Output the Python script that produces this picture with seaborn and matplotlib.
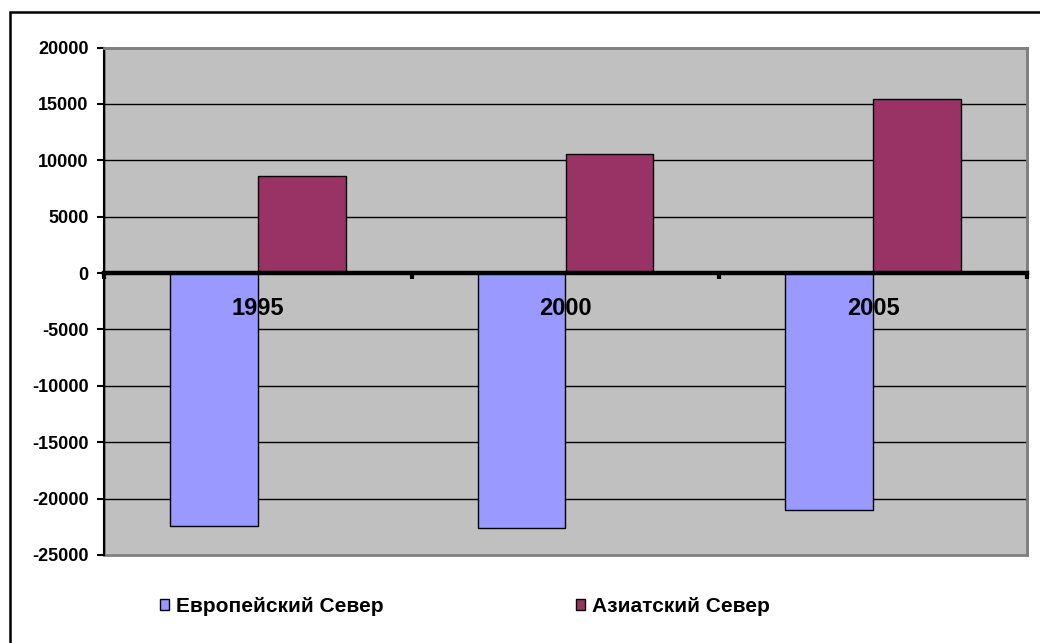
import pandas as pd
import matplotlib
matplotlib.use('Agg')
import matplotlib.pyplot as plt
import matplotlib.patches as mpatches
import seaborn as sns

# data
years = ['1995', '2000', '2005']
europe_north = [-22450, -22600, -21050]
asia_north = [8650, 10550, 15400]
regions = ['Европейский Север', 'Азиатский Север']
colors = ['#9999FF', '#993366']

df = pd.DataFrame({
    'year': years * 2,
    'value': europe_north + asia_north,
    'region': [regions[0]] * len(years) + [regions[1]] * len(years),
})

sns.set_style('white')
plt.rcParams['font.family'] = ['Liberation Sans', 'DejaVu Sans']
plt.rcParams['font.weight'] = 'bold'
plt.rcParams['text.color'] = 'black'
plt.rcParams['xtick.color'] = 'black'
plt.rcParams['ytick.color'] = 'black'
plt.rcParams['axes.unicode_minus'] = False

fig = plt.figure(figsize=(10.4, 6.43), dpi=100)
ax = fig.add_axes([0.1, 0.137, 0.8875, 0.789])

sns.barplot(data=df, x='year', y='value', hue='region', palette=colors,
            width=0.57, gap=0, saturation=1, edgecolor='black', linewidth=1,
            ax=ax)

# Excel-like plot area
ax.set_facecolor('#C0C0C0')
ax.patch.set_edgecolor('#808080')
ax.patch.set_linewidth(2)
ax.set_ylim(-25000, 20000)
ax.set_yticks(range(-25000, 20001, 5000))
ax.yaxis.grid(True, color='black', linewidth=1)
ax.set_axisbelow(True)
ax.xaxis.set_zorder(6)
for gl in ax.yaxis.get_gridlines()[::len(ax.get_yticks()) - 1]:
    gl.set_visible(False)

ax.spines['bottom'].set_position(('data', 0))
ax.spines['bottom'].set_linewidth(3.2)
ax.spines['bottom'].set_color('black')
ax.spines['bottom'].set_zorder(5)
ax.spines['left'].set_linewidth(1.5)
ax.spines['left'].set_color('black')
for side in ['top', 'right']:
    ax.spines[side].set_color('#808080')
    ax.spines[side].set_linewidth(2)

ax.set_xticks([-0.5, 0.5, 1.5, 2.5], minor=True)
ax.tick_params(axis='x', which='minor', length=4, width=3, direction='out',
               color='black', bottom=True)
ax.tick_params(axis='x', which='major', length=0, pad=17, labelsize=17)
ax.tick_params(axis='y', length=5, width=1.5, direction='out', pad=6,
               labelsize=13, left=True)
ax.set_xlabel('')
ax.set_ylabel('')

sns.move_legend(ax, 'center', bbox_to_anchor=(0.447, 0.0575),
                bbox_transform=fig.transFigure, ncol=2, frameon=False,
                title=None, fontsize=15, handlelength=0.45, handleheight=0.45,
                handletextpad=0.33, columnspacing=9.2)

# outer chart frame (right and bottom run off the picture)
fig.add_artist(mpatches.Rectangle((10 / 1040, -0.1), 1.2, 1.1 - 12 / 643,
                                  transform=fig.transFigure, fill=False,
                                  edgecolor='black', linewidth=1.8,
                                  clip_on=False))

fig.savefig('out.png', dpi=100)
